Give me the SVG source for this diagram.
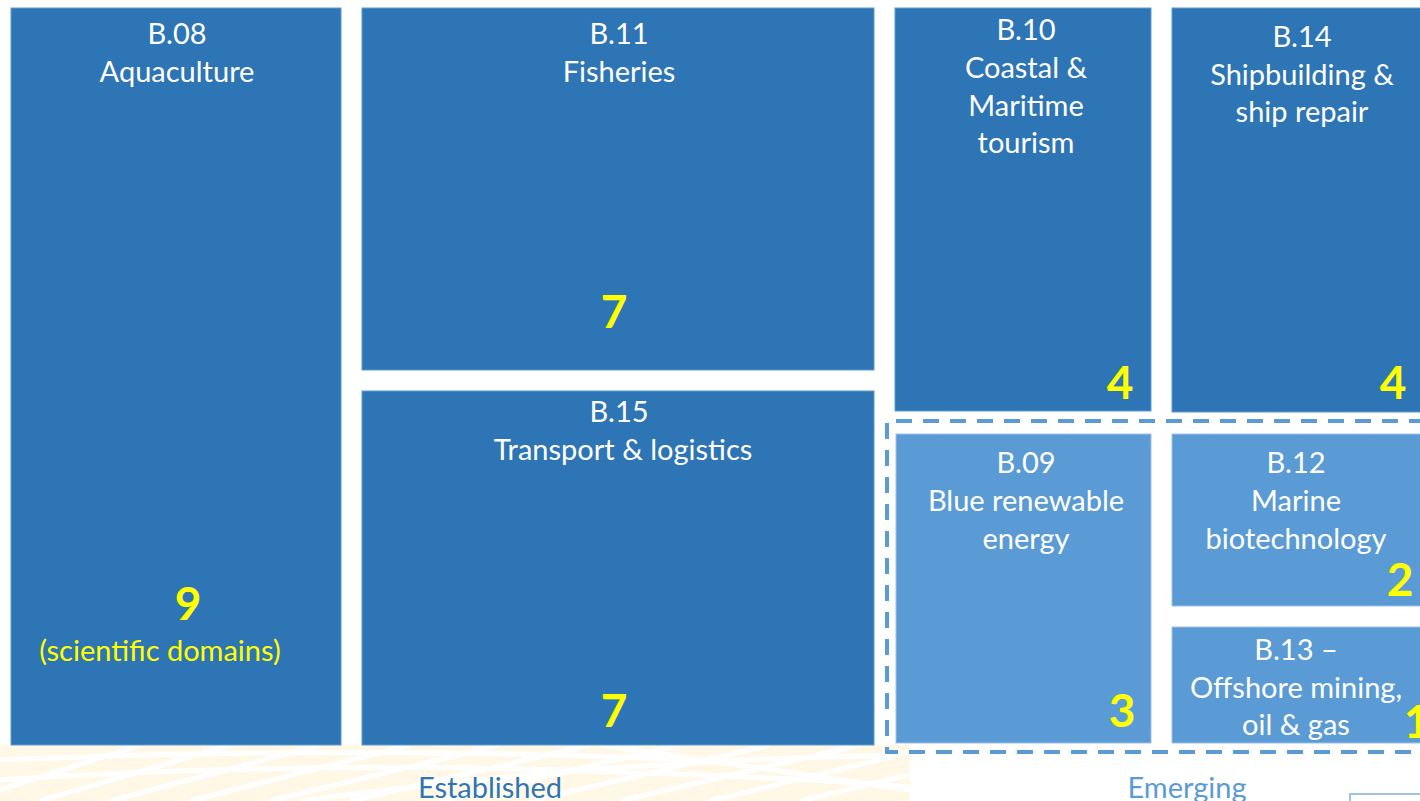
<svg xmlns="http://www.w3.org/2000/svg" width="1420" height="801" viewBox="0 0 1420 801">
<defs>
<style>
.dk{fill:#2e75b6;stroke:#5b9bd5;stroke-width:1}
.lt{fill:#5b9bd5;stroke:#9dc3e6;stroke-width:1}
.t{font-family:Lato,"Liberation Sans",sans-serif;font-size:29px;fill:#ffffff;text-anchor:middle}
.n{font-family:Lato,"Liberation Sans",sans-serif;font-size:46px;font-weight:bold;fill:#ffff00;text-anchor:middle}
.s{font-family:Lato,"Liberation Sans",sans-serif;font-size:29px;fill:#ffff00;text-anchor:middle}
.lab{font-family:Lato,"Liberation Sans",sans-serif;font-size:29px;text-anchor:middle}
</style>
<clipPath id="bg"><rect x="0" y="745" width="910" height="56"/></clipPath>
</defs>
<rect width="1420" height="801" fill="#ffffff"/>
<g id="background" clip-path="url(#bg)">
<rect x="0" y="745" width="910" height="56" fill="#fff8e6"/>
<g stroke="#ffffff" stroke-width="5" fill="none">
<path d="M0,790 L140,745"/><path d="M40,801 L230,745"/><path d="M110,801 L320,745"/><path d="M190,801 L410,745"/><path d="M270,801 L500,745"/><path d="M350,801 L590,745"/><path d="M440,801 L680,745"/><path d="M530,801 L770,745"/><path d="M620,801 L860,745"/><path d="M710,801 L920,750"/><path d="M800,801 L930,770"/>
<path d="M0,780 Q300,760 620,772 T910,790"/><path d="M0,760 Q350,745 700,760"/><path d="M300,801 Q600,760 900,755"/><path d="M600,745 L910,790"/>
</g>
</g>
<g id="B08"><rect class="dk" x="11" y="8" width="330" height="737"/>
<text class="t" x="177" y="44">B.08</text><text class="t" x="177" y="82">Aquaculture</text>
<text class="n" x="188" y="620">9</text><text class="s" x="160" y="661">(scientific domains)</text></g>
<g id="B11"><rect class="dk" x="362" y="8" width="512" height="362"/>
<text class="t" x="619" y="44">B.11</text><text class="t" x="619" y="82">Fisheries</text>
<text class="n" x="614" y="328">7</text></g>
<g id="B15"><rect class="dk" x="362" y="391" width="512" height="354"/>
<text class="t" x="619" y="422">B.15</text><text class="t" x="623" y="460">Transport &amp; logistics</text>
<text class="n" x="614" y="727">7</text></g>
<g id="B10"><rect class="dk" x="895" y="8" width="256" height="403"/>
<text class="t" x="1026" y="40">B.10</text><text class="t" x="1026" y="78">Coastal &amp;</text><text class="t" x="1026" y="116">Maritime</text><text class="t" x="1026" y="153">tourism</text>
<text class="n" x="1120" y="399">4</text></g>
<g id="B14"><rect class="dk" x="1172" y="8" width="260" height="404"/>
<text class="t" x="1302" y="47">B.14</text><text class="t" x="1302" y="85">Shipbuilding &amp;</text><text class="t" x="1302" y="122">ship repair</text>
<text class="n" x="1393" y="399">4</text></g>
<g id="B09"><rect class="lt" x="896" y="434" width="255" height="309"/>
<text class="t" x="1026" y="473">B.09</text><text class="t" x="1026" y="511">Blue renewable</text><text class="t" x="1026" y="549">energy</text>
<text class="n" x="1122" y="727">3</text></g>
<g id="B12"><rect class="lt" x="1172" y="434" width="260" height="172"/>
<text class="t" x="1296" y="473">B.12</text><text class="t" x="1296" y="511">Marine</text><text class="t" x="1296" y="549">biotechnology</text>
<text class="n" x="1400" y="596">2</text></g>
<g id="B13"><rect class="lt" x="1172" y="627" width="260" height="116"/>
<text class="t" x="1296" y="660">B.13 –</text><text class="t" x="1296" y="698">Offshore mining,</text><text class="t" x="1296" y="735">oil &amp; gas</text>
<text class="n" x="1417" y="738">1</text></g>
<g id="emerging-group"><path d="M1425,421 L887,421 L887,752 L1425,752" fill="none" stroke="#5b9bd5" stroke-width="4" stroke-dasharray="16,11"/></g>
<g id="labels">
<text class="lab" x="490" y="798" fill="#2e75b6">Established</text>
<text class="lab" x="1187" y="798" fill="#5b9bd5">Emerging</text>
<rect x="1350" y="794" width="80" height="20" fill="none" stroke="#9dc3e6" stroke-width="2"/>
</g>
</svg>
